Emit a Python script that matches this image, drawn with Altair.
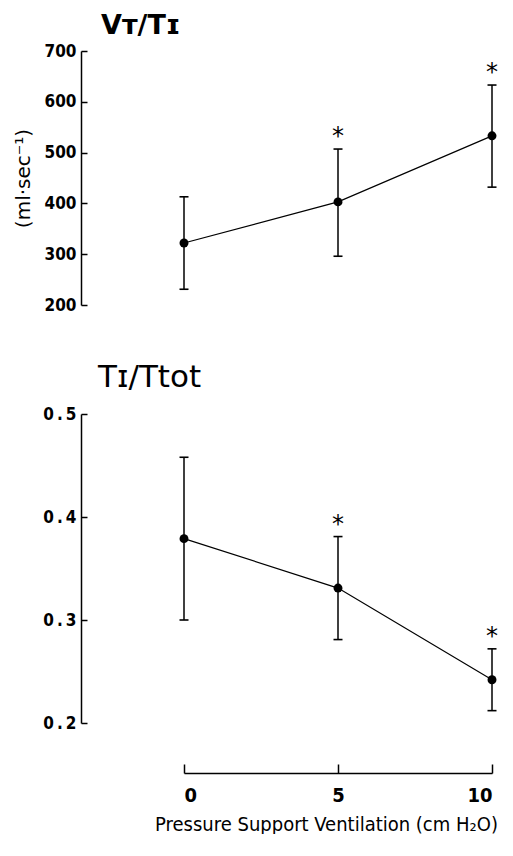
import altair as alt
import pandas as pd

# ---- data ----
pressure = [0, 5, 10]
vt_mean = [322, 403, 533]
vt_upper = [413, 507, 633]
vt_lower = [231, 296, 432]
ti_mean = [0.379, 0.331, 0.242]
ti_upper = [0.458, 0.381, 0.272]
ti_lower = [0.300, 0.281, 0.212]
signif = ["", "*", "*"]

vt_ticks = [200, 300, 400, 500, 600, 700]
ti_ticks = [0.2, 0.3, 0.4, 0.5]
x_ticks = [0, 5, 10]

LABEL_FONT = "Liberation Sans Narrow, DejaVu Sans Condensed, Arial Narrow, sans-serif"

vt = pd.DataFrame(dict(p=pressure, m=vt_mean, hi=vt_upper, lo=vt_lower, s=signif))
ti = pd.DataFrame(dict(p=pressure, m=ti_mean, hi=ti_upper, lo=ti_lower, s=signif))

xscale = alt.Scale(domain=[0, 10], range=[103, 411], nice=False, zero=False)


def panel(df, yscale, yaxis, xaxis, title, height):
    base = alt.Chart(df)
    x = alt.X("p:Q", scale=xscale, axis=xaxis)

    def y(field):
        return alt.Y(field, type="quantitative", scale=yscale, axis=yaxis)

    rule = base.mark_rule(color="black", strokeWidth=1.5).encode(x=x, y=y("lo"), y2="hi:Q")
    cap_hi = base.mark_tick(orient="horizontal", color="black", size=9, thickness=1.6, opacity=1).encode(x=x, y=y("hi"))
    cap_lo = base.mark_tick(orient="horizontal", color="black", size=9, thickness=1.6, opacity=1).encode(x=x, y=y("lo"))
    line = base.mark_line(color="black", strokeWidth=1.2).encode(x=x, y=y("m"))
    pts = base.mark_circle(color="black", size=80, opacity=1).encode(x=x, y=y("m"))
    star = base.mark_text(fontSize=24, dy=-5, baseline="alphabetic", font="DejaVu Sans", color="black").encode(
        x=x, y=y("hi"), text="s:N")
    return alt.layer(rule, cap_hi, cap_lo, line, pts, star).properties(width=414, height=height, title=title)


vt_axis = alt.Axis(values=vt_ticks, title="(ml·sec⁻¹)", titleFont="DejaVu Sans", titleFontSize=20,
                   titleFontWeight="normal", titlePadding=11,
                   labelFont=LABEL_FONT, labelFontSize=17, labelFontWeight="bold",
                   tickSize=alt.ExprRef(expr="-6"), labelPadding=11)
ti_axis = alt.Axis(values=ti_ticks, format=".1f", title=None,
                   labelExpr="replace(datum.label, '.', '\u2009.\u2009')",
                   labelFont=LABEL_FONT, labelFontSize=17, labelFontWeight="bold",
                   tickSize=alt.ExprRef(expr="-6"), labelPadding=11)
x_axis = alt.Axis(values=x_ticks, offset=50, title="Pressure Support Ventilation (cm H₂O)",
                  titleFont=LABEL_FONT, titleFontSize=20, titleFontWeight="normal", titlePadding=9,
                  titleX=245, titleAlign="center",
                  labelFont=LABEL_FONT, labelFontSize=20, labelFontWeight="bold",
                  tickSize=alt.ExprRef(expr="-9"), labelPadding=21)

top = panel(vt, alt.Scale(domain=[200, 700], nice=False, zero=False), vt_axis, None,
            alt.TitleParams(text="Vᴛ/Tɪ", anchor="start", frame="group", fontSize=27, font="DejaVu Sans",
                            fontWeight="bold", dx=20, offset=2, color="black"), 254)
bottom = panel(ti, alt.Scale(domain=[0.2, 0.5], nice=False, zero=False), ti_axis, x_axis,
               alt.TitleParams(text="Tɪ/Ttot", anchor="start", frame="group", fontSize=31, font="DejaVu Sans",
                               fontWeight="normal", dx=17, offset=11, color="black"), 309)

chart = alt.vconcat(top, bottom, spacing=109, bounds="flush").properties(
    padding={"left": 5, "top": 4, "right": 0, "bottom": 0}
).configure_view(stroke=None).configure_axis(
    grid=False, domainColor="black", domainWidth=1.5, tickColor="black", tickWidth=1.5,
    labelColor="black", titleColor="black")

chart.save("out.html", embed_options={"renderer": "svg", "actions": False})
